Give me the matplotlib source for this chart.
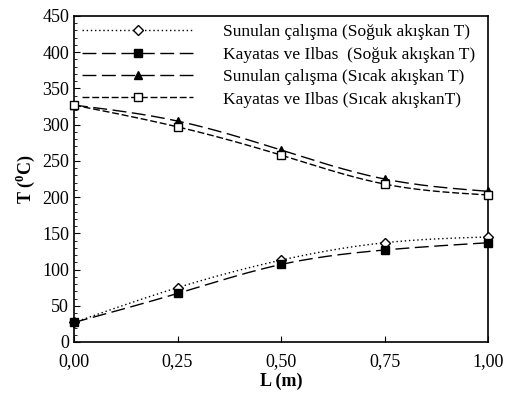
import numpy as np
import matplotlib
matplotlib.use("Agg")
import matplotlib.pyplot as plt
from matplotlib.ticker import MultipleLocator, FixedLocator

plt.rcParams['font.family'] = ['Liberation Serif', 'DejaVu Serif']
plt.rcParams['mathtext.fontset'] = 'custom'
plt.rcParams['mathtext.rm'] = 'Liberation Serif'
plt.rcParams['mathtext.bf'] = 'Liberation Serif:bold'

L = [0.0, 0.25, 0.5, 0.75, 1.0]
cold_sunulan = [27, 75, 113, 137, 145]
cold_kayatas = [27, 67, 107, 127, 137]
hot_sunulan = [327, 305, 265, 225, 208]
hot_kayatas = [327, 297, 258, 218, 203]
labels = ["Sunulan çalışma (Soğuk akışkan T)",
          "Kayatas ve Ilbas  (Soğuk akışkan T)",
          "Sunulan çalışma (Sıcak akışkan T)",
          "Kayatas ve Ilbas (Sıcak akışkanT)"]
xticklabels = ["0,00", "0,25", "0,50", "0,75", "1,00"]


def spline(x, y, n=200):
    x = np.asarray(x, float); y = np.asarray(y, float)
    m = len(x); h = np.diff(x)
    A = np.zeros((m, m)); b = np.zeros(m)
    A[0, 0] = A[-1, -1] = 1
    for i in range(1, m - 1):
        A[i, i - 1] = h[i - 1]; A[i, i] = 2 * (h[i - 1] + h[i]); A[i, i + 1] = h[i]
        b[i] = 3 * ((y[i + 1] - y[i]) / h[i] - (y[i] - y[i - 1]) / h[i - 1])
    c = np.linalg.solve(A, b)
    xs = np.linspace(x[0], x[-1], n); ys = np.empty_like(xs)
    for k, xv in enumerate(xs):
        i = min(np.searchsorted(x, xv, side='right') - 1, m - 2)
        dx = xv - x[i]
        bb = (y[i + 1] - y[i]) / h[i] - h[i] * (2 * c[i] + c[i + 1]) / 3
        d = (c[i + 1] - c[i]) / (3 * h[i])
        ys[k] = y[i] + bb * dx + c[i] * dx ** 2 + d * dx ** 3
    return xs, ys


fig = plt.figure(figsize=(5.05, 4.03), dpi=100)
ax = fig.add_axes([74 / 505, 1 - 342 / 403, 414 / 505, 326 / 403])

series = [
    (cold_sunulan, dict(ls=(0, (1, 2)), marker='D', mfc='white', ms=5)),
    (cold_kayatas, dict(ls=(0, (10, 4)), marker='s', mfc='black', ms=6)),
    (hot_sunulan, dict(ls=(0, (10, 4)), marker='^', mfc='black', ms=6)),
    (hot_kayatas, dict(ls=(0, (5, 2)), marker='s', mfc='white', ms=6)),
]
for (vals, st), lab in zip(series, labels):
    xs, ys = spline(L, vals)
    ax.plot(xs, ys, color='black', lw=1.0, ls=st['ls'])
    ax.plot(L, vals, ls='none', marker=st['marker'], mfc=st['mfc'], mec='black',
            ms=st['ms'], clip_on=False, zorder=5)
    ax.plot([], [], color='black', lw=1.0, ls=st['ls'], marker=st['marker'],
            mfc=st['mfc'], mec='black', ms=st['ms'], label=lab)

ax.set_xlim(0, 1)
ax.set_ylim(0, 450)
ax.xaxis.set_major_locator(FixedLocator(L))
ax.set_xticklabels(xticklabels)
ax.yaxis.set_major_locator(MultipleLocator(50))
ax.yaxis.set_minor_locator(MultipleLocator(10))
ax.tick_params(axis='both', which='both', direction='in', labelsize=13, color='black')
ax.tick_params(axis='both', which='major', length=4)
ax.tick_params(axis='y', which='minor', length=2)
ax.tick_params(axis='x', pad=8)
for s in ax.spines.values():
    s.set_linewidth(1.2)

ax.set_xlabel("L (m)", fontsize=13, fontweight='bold', labelpad=2)
ax.set_ylabel(r"T ($^{\mathbf{0}}$C)", fontsize=13, fontweight='bold', labelpad=4)

leg = ax.legend(loc='upper left', bbox_to_anchor=(0.02, 0.975), fontsize=12.5,
                frameon=False, handlelength=6.4, numpoints=1, borderaxespad=0,
                borderpad=0, labelspacing=0.36, handletextpad=1.7)

fig.savefig("out.png", dpi=100)
